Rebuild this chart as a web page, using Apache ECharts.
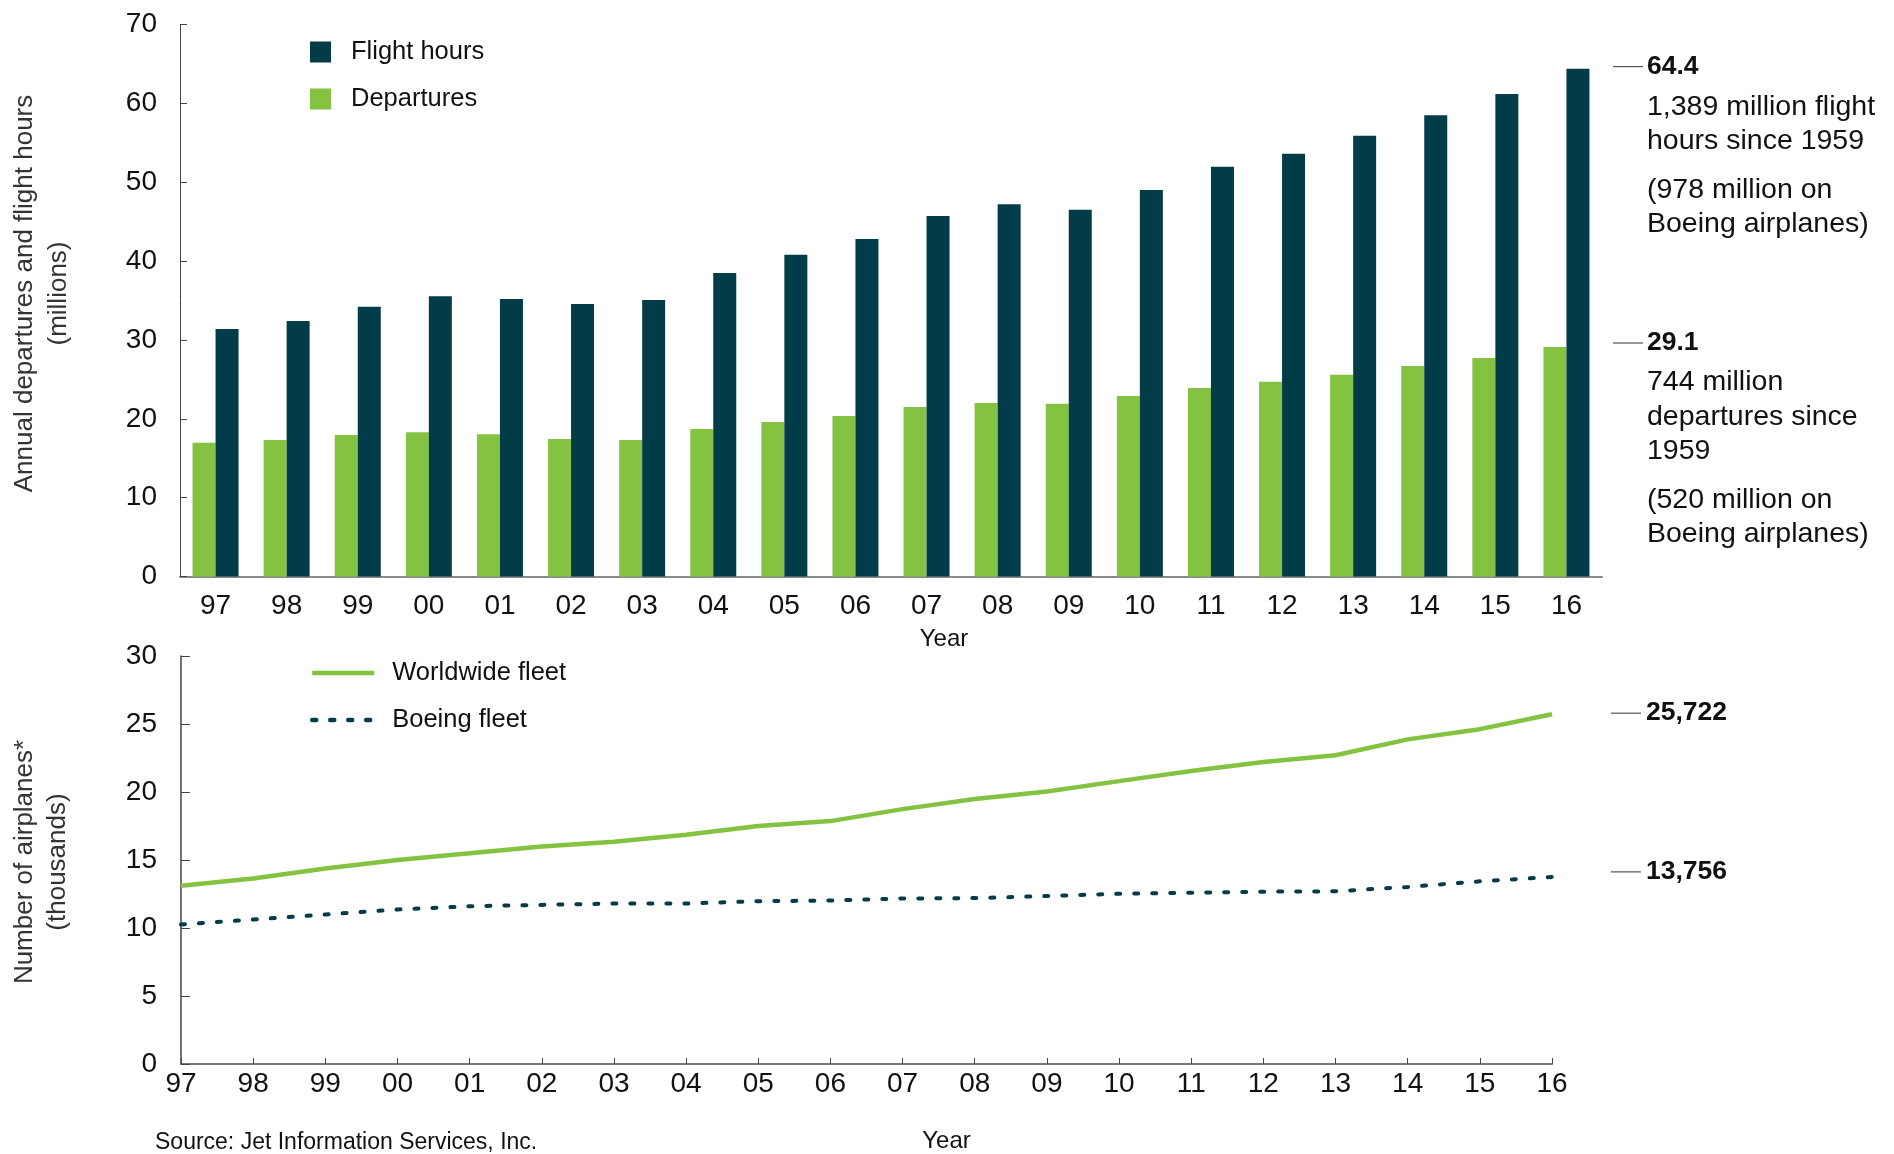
<!DOCTYPE html>
<html>
<head>
<meta charset="utf-8">
<title>Departures, flight hours and fleet</title>
<script src="https://cdn.jsdelivr.net/npm/echarts@6/dist/echarts.min.js"></script>
<style>
  html, body { margin: 0; padding: 0; background: #fff; }
  #main { width: 1894px; height: 1154px; }
</style>
</head>
<body>
<div id="main"></div>
<script>
// years on both x axes
const years = ['97', '98', '99', '00', '01', '02', '03', '04', '05', '06',
  '07', '08', '09', '10', '11', '12', '13', '14', '15', '16']

// annual flight hours and departures (millions)
const flightHours = [31.4, 32.4, 34.2, 35.55, 35.2, 34.55, 35.05, 38.5, 40.8, 42.8,
  45.7, 47.2, 46.5, 49.0, 51.95, 53.6, 55.9, 58.5, 61.2, 64.4]
const departures = [16.95, 17.3, 17.95, 18.3, 18.05, 17.45, 17.3, 18.7, 19.6, 20.35,
  21.5, 22.0, 21.9, 22.9, 23.9, 24.7, 25.6, 26.7, 27.7, 29.1]

// number of airplanes (thousands)
const worldwideFleet = [13.1, 13.64, 14.37, 15.0, 15.5, 16.0, 16.35, 16.85, 17.5, 17.86,
  18.74, 19.49, 20.04, 20.8, 21.54, 22.2, 22.7, 23.87, 24.62, 25.722]
const boeingFleet = [10.26, 10.62, 10.99, 11.36, 11.6, 11.7, 11.8, 11.8, 11.97, 12.02,
  12.17, 12.2, 12.35, 12.52, 12.6, 12.67, 12.7, 13.02, 13.43, 13.756]

// tick labels
const topTicks = [0, 10, 20, 30, 40, 50, 60, 70]
const bottomTicks = [0, 5, 10, 15, 20, 25, 30]

const FONT = 'Liberation Sans, Arial, Helvetica, sans-serif'
const DARK = '#033c49'
const GREEN = '#84c242'
const TEXT = '#111'

const chart = echarts.init(document.getElementById('main'))

const option = {
  animation: false,
  textStyle: { fontFamily: FONT },
  grid: [
    { left: 178, top: 24.5, width: 1424, height: 552 },
    { left: 174, top: 656, width: 1378, height: 408 }
  ],
  legend: [
    {
      data: ['Flight hours', 'Departures'],
      orient: 'vertical',
      left: 305, top: 34,
      itemWidth: 21, itemHeight: 21, itemGap: 21,
      icon: 'rect',
      textStyle: { fontSize: 25.5, color: TEXT, fontFamily: FONT, padding: [0, 0, 0, 15] }
    },
    {
      data: ['Worldwide fleet', 'Boeing fleet'],
      orient: 'vertical',
      left: 305, top: 655,
      itemWidth: 62, itemHeight: 20, itemGap: 21,
      itemStyle: { color: 'transparent', borderWidth: 0 },
      lineStyle: { width: 4.5 },
      textStyle: { fontSize: 25.5, color: TEXT, fontFamily: FONT, padding: [0, 0, 0, 13] }
    }
  ],
  xAxis: [
    {
      gridIndex: 0,
      type: 'category',
      data: years,
      boundaryGap: true,
      axisLine: { lineStyle: { color: '#8a8a8a', width: 2 } },
      axisTick: { show: false },
      axisLabel: { fontSize: 28, color: TEXT, margin: 16, fontFamily: FONT },
      name: 'Year',
      nameLocation: 'middle',
      nameGap: 51,
      nameTextStyle: { fontSize: 24, color: TEXT, fontFamily: FONT, padding: [0, 0, 0, 106] }
    },
    {
      gridIndex: 1,
      type: 'category',
      data: years,
      boundaryGap: false,
      axisLine: { lineStyle: { color: '#777', width: 2 } },
      axisTick: { show: true, inside: true, length: 6, lineStyle: { color: '#444' } },
      axisLabel: { fontSize: 28, color: TEXT, margin: 6, fontFamily: FONT },
      name: 'Year',
      nameLocation: 'middle',
      nameGap: 65,
      nameTextStyle: { fontSize: 24, color: TEXT, fontFamily: FONT, padding: [0, 0, 0, 160] }
    }
  ],
  yAxis: [
    {
      gridIndex: 0,
      type: 'value',
      min: topTicks[0], max: topTicks[topTicks.length - 1], interval: 10,
      splitLine: { show: false },
      axisLine: { show: true, lineStyle: { color: '#444', width: 1 } },
      axisTick: { show: true, inside: true, length: 7, lineStyle: { color: '#444' } },
      axisLabel: { fontSize: 28, color: TEXT, margin: 23, fontFamily: FONT },
      name: 'Annual departures and flight hours\n(millions)',
      nameLocation: 'middle',
      nameRotate: 90,
      nameGap: 104,
      nameTextStyle: { fontSize: 26, color: '#333', lineHeight: 34, fontFamily: FONT, padding: [0, 0, 0, 14] }
    },
    {
      gridIndex: 1,
      type: 'value',
      min: bottomTicks[0], max: bottomTicks[bottomTicks.length - 1], interval: 5,
      splitLine: { show: false },
      axisLine: { show: true, lineStyle: { color: '#444', width: 1.5 } },
      axisTick: { show: true, inside: true, length: 9, lineStyle: { color: '#444' } },
      axisLabel: { fontSize: 28, color: TEXT, margin: 24, fontFamily: FONT },
      name: 'Number of airplanes*\n(thousands)',
      nameLocation: 'middle',
      nameRotate: 90,
      nameGap: 107,
      nameTextStyle: { fontSize: 26, color: '#333', lineHeight: 33, fontFamily: FONT, padding: [0, 4, 0, 0] }
    }
  ],
  series: [
    {
      name: 'Departures',
      type: 'bar',
      xAxisIndex: 0, yAxisIndex: 0,
      data: departures,
      barWidth: 23,
      barGap: '0%',
      itemStyle: { color: GREEN }
    },
    {
      name: 'Flight hours',
      type: 'bar',
      xAxisIndex: 0, yAxisIndex: 0,
      data: flightHours,
      barWidth: 23,
      barGap: '0%',
      itemStyle: { color: DARK }
    },
    {
      name: 'Worldwide fleet',
      type: 'line',
      xAxisIndex: 1, yAxisIndex: 1,
      data: worldwideFleet,
      symbol: 'none',
      lineStyle: { color: GREEN, width: 4.5 },
      itemStyle: { color: GREEN }
    },
    {
      name: 'Boeing fleet',
      type: 'line',
      xAxisIndex: 1, yAxisIndex: 1,
      data: boeingFleet,
      symbol: 'none',
      lineStyle: { color: DARK, width: 4, type: [4, 14], cap: 'round' },
      itemStyle: { color: DARK }
    }
  ]
}

chart.setOption(option)

// side notes, placed next to the last value of each series
const last = years.length - 1
const yFH = chart.convertToPixel({ xAxisIndex: 0, yAxisIndex: 0 }, [last, flightHours[last]])[1] - 2
const yDep = chart.convertToPixel({ xAxisIndex: 0, yAxisIndex: 0 }, [last, departures[last]])[1] - 4
const yWW = chart.convertToPixel({ xAxisIndex: 1, yAxisIndex: 1 }, [last, worldwideFleet[last]])[1] - 1
const yBo = chart.convertToPixel({ xAxisIndex: 1, yAxisIndex: 1 }, [last, boeingFleet[last]])[1] - 5

const note = (x, y, text, bold) => ({
  type: 'text', x: x, y: y,
  style: {
    text: text, fill: TEXT, fontFamily: FONT,
    fontSize: bold ? 26.5 : 28.5, fontWeight: bold ? 'bold' : 'normal',
    verticalAlign: bold ? 'middle' : 'top', lineHeight: 34.5
  }
})
const tick = (x1, x2, y) => ({
  type: 'line', shape: { x1: x1, y1: y, x2: x2, y2: y },
  style: { stroke: '#333', lineWidth: 1 }
})

chart.setOption({
  graphic: [
    tick(1613, 1643, yFH),
    note(1647, yFH, flightHours[last].toFixed(1), true),
    note(1647, yFH + 23, '1,389 million flight\nhours since 1959'),
    note(1647, yFH + 106, '(978 million on\nBoeing airplanes)'),

    tick(1613, 1643, yDep),
    note(1647, yDep, departures[last].toFixed(1), true),
    note(1647, yDep + 22.3, '744 million\ndepartures since\n1959'),
    note(1647, yDep + 139.75, '(520 million on\nBoeing airplanes)'),

    tick(1611, 1641, yWW),
    note(1646, yWW, Math.round(worldwideFleet[last] * 1000).toLocaleString('en-US'), true),
    tick(1611, 1641, yBo),
    note(1646, yBo, Math.round(boeingFleet[last] * 1000).toLocaleString('en-US'), true),

    {
      type: 'text', x: 155, y: 1143,
      style: { text: 'Source: Jet Information Services, Inc.', fill: TEXT, fontFamily: FONT, fontSize: 23, verticalAlign: 'middle' }
    }
  ]
})
</script>
</body>
</html>
